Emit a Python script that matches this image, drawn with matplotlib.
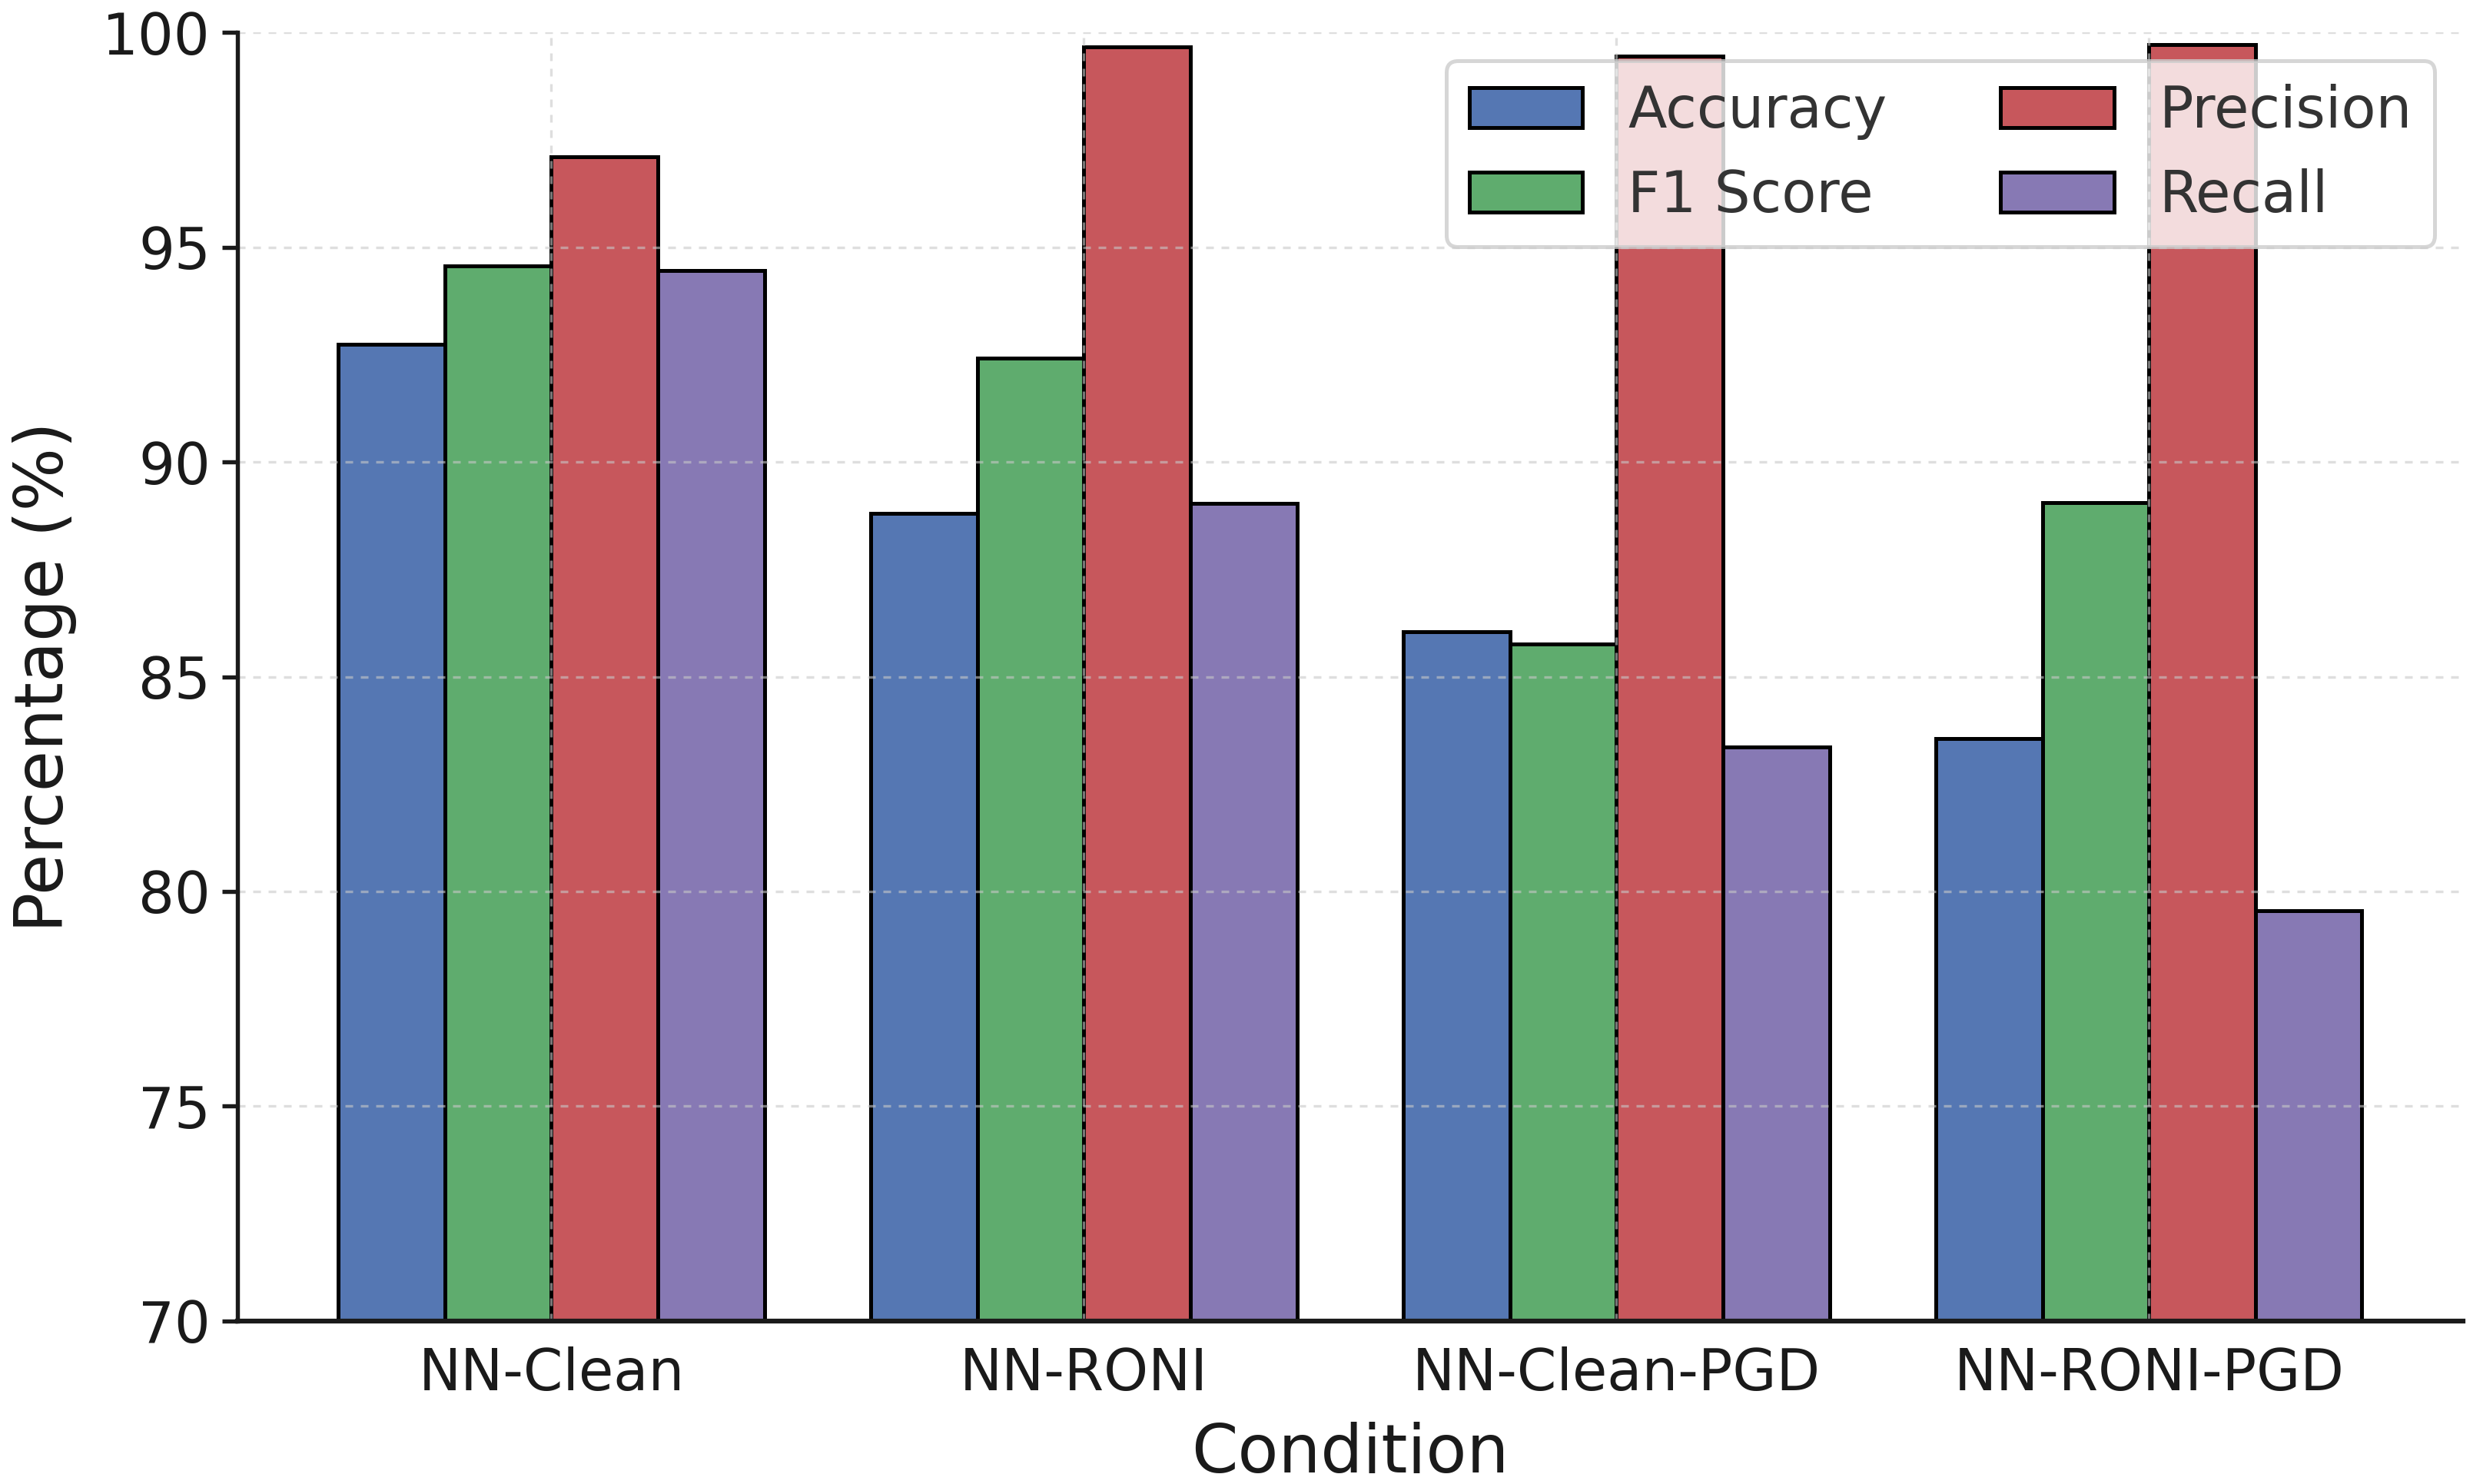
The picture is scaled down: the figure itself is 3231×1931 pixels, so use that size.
import matplotlib
matplotlib.use("Agg")
import matplotlib.pyplot as plt
import numpy as np

conditions = ["NN-Clean", "NN-RONI", "NN-Clean-PGD", "NN-RONI-PGD"]
metrics = ["Accuracy", "F1 Score", "Precision", "Recall"]
accuracy = [92.75, 88.80, 86.04, 83.56]
f1_score = [94.57, 92.42, 85.77, 89.05]
precision = [97.11, 99.66, 99.46, 99.72]
recall = [94.46, 89.04, 83.37, 79.55]
colors = ["#5577b3", "#5fac6e", "#c7575c", "#8779b4"]
yticks = [70, 75, 80, 85, 90, 95, 100]

plt.rcParams['font.family'] = ['DejaVu Sans']

fig = plt.figure(figsize=(3231/300, 1931/300), dpi=300)
ax = fig.add_axes([0.0955, 0.110, 0.8965, 0.868])

series = [accuracy, f1_score, precision, recall]
x = np.arange(len(conditions))
w = 0.2
for i, (name, vals) in enumerate(zip(metrics, series)):
    ax.bar(x + (i - 1.5) * w, vals, width=w, color=colors[i], edgecolor="black",
           linewidth=1.2, label=name, zorder=1)

ax.set_ylim(70, 100)
ax.set_xlim(-0.59, 3.59)
ax.set_yticks(yticks)
ax.set_xticks(x)
ax.set_xticklabels(conditions)
ax.tick_params(axis='y', labelsize=17.7, length=4.8, width=1.3, colors='#1a1a1a')
ax.tick_params(axis='x', labelsize=17.7, length=0, pad=8, colors='#1a1a1a')
ax.set_xlabel("Condition", fontsize=20.8, color='#1a1a1a', labelpad=6)
ax.set_ylabel("Percentage (%)", fontsize=20.8, color='#1a1a1a', labelpad=8)

for s in ['top', 'right']:
    ax.spines[s].set_visible(False)
ax.spines['left'].set_linewidth(1.3)
ax.spines['bottom'].set_linewidth(1.5)
for s in ['left', 'bottom']:
    ax.spines[s].set_color('#1a1a1a')
    ax.spines[s].set_zorder(5)

ax.set_axisbelow(False)
ax.grid(True, linestyle=(0, (3, 3)), color='#c8c8c8', alpha=0.6, linewidth=0.8, zorder=3)

leg = ax.legend(ncol=2, loc='upper right', fontsize=17.7, frameon=True,
                fancybox=True, framealpha=0.8, edgecolor='#cccccc')
for t in leg.get_texts():
    t.set_color('#333333')
leg.get_frame().set_linewidth(1.2)
leg.set_zorder(6)

fig.savefig("out.png", dpi=300)
